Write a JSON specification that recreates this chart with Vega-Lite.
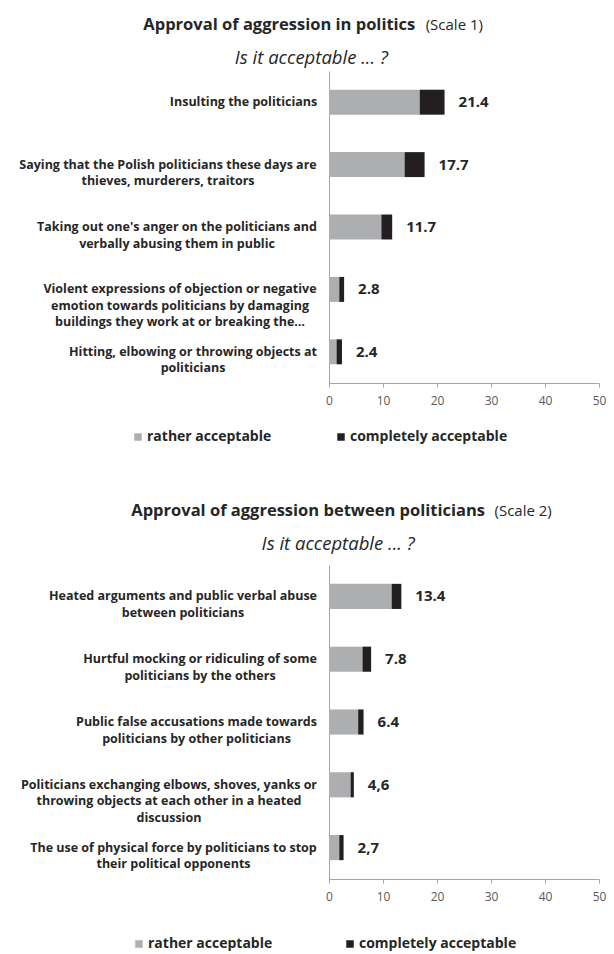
{
  "$schema": "https://vega.github.io/schema/vega-lite/v6.json",
  "background": "white",
  "padding": {"top": 17, "left": 18, "right": 5, "bottom": 0},
  "config": {
    "font": "Open Sans",
    "view": {"stroke": null},
    "title": {"color": "#262626", "anchor": "middle"},
    "axis": {"domainColor": "#A6A6A6", "tickColor": "#A6A6A6", "grid": false}
  },
  "datasets": {
    "scale1": [
      {"item": "Insulting the politicians", "rather acceptable": 16.8, "completely acceptable": 4.6, "total": 21.4, "label": "21.4"},
      {"item": "Saying that the Polish politicians these days are|thieves, murderers, traitors", "rather acceptable": 14.0, "completely acceptable": 3.7, "total": 17.7, "label": "17.7"},
      {"item": "Taking out one's anger on the politicians and|verbally abusing them in public", "rather acceptable": 9.7, "completely acceptable": 2.0, "total": 11.7, "label": "11.7"},
      {"item": "Violent expressions of objection or negative|emotion towards politicians by damaging|buildings they work at or breaking the…", "rather acceptable": 1.9, "completely acceptable": 0.9, "total": 2.8, "label": "2.8"},
      {"item": "Hitting, elbowing or throwing objects at|politicians", "rather acceptable": 1.4, "completely acceptable": 1.0, "total": 2.4, "label": "2.4"}
    ],
    "scale2": [
      {"item": "Heated arguments and public verbal abuse|between politicians", "rather acceptable": 11.6, "completely acceptable": 1.8, "total": 13.4, "label": "13.4"},
      {"item": "Hurtful mocking or ridiculing of some|politicians by the others", "rather acceptable": 6.2, "completely acceptable": 1.6, "total": 7.8, "label": "7.8"},
      {"item": "Public false accusations made towards|politicians by other politicians", "rather acceptable": 5.4, "completely acceptable": 1.0, "total": 6.4, "label": "6.4"},
      {"item": "Politicians exchanging elbows, shoves, yanks or|throwing objects at each other in a heated|discussion", "rather acceptable": 4.0, "completely acceptable": 0.6, "total": 4.6, "label": "4,6"},
      {"item": "The use of physical force by politicians to stop|their political opponents", "rather acceptable": 1.9, "completely acceptable": 0.8, "total": 2.7, "label": "2,7"}
    ]
  },
  "spacing": 58,
  "resolve": {"scale": {"color": "independent", "x": "independent", "y": "independent"}},
  "vconcat": [
    {
      "title": {"text": "(Scale 1)", "fontSize": 15, "fontWeight": "normal", "offset": -16, "dx": 142},
      "vconcat": [
        {
          "title": {"text": "Approval of aggression in politics", "fontSize": 16.5, "fontWeight": "bold", "offset": 15, "dx": -33},
          "vconcat": [
            {
              "data": {"name": "scale1"},
              "width": 270,
              "height": 312,
              "title": {"text": "Is it acceptable ... ?", "fontSize": 18.5, "fontWeight": "normal", "fontStyle": "italic", "offset": 4, "frame": "bounds", "dx": -1},
              "encoding": {
                "y": {"field": "item", "type": "nominal", "sort": null, "title": null,
                  "scale": {"paddingInner": 0.6, "paddingOuter": 0.3},
                  "axis": {"labelExpr": "split(datum.label, '|')", "labelFontSize": 12.5, "labelFontWeight": "bold", "labelColor": "#262626", "labelLimit": 0, "labelLineHeight": 16.5, "labelAlign": "center",
                    "labelPadding": {"condition": [
                      {"test": "indexof(datum.value, 'Insulting') === 0", "value": 86},
                      {"test": "indexof(datum.value, 'Saying') === 0", "value": 161.5},
                      {"test": "indexof(datum.value, 'Taking') === 0", "value": 152.5},
                      {"test": "indexof(datum.value, 'Violent') === 0", "value": 149.5}
                    ], "value": 136.5},
                    "ticks": false}}
              },
              "layer": [
                {
                  "transform": [{"fold": ["rather acceptable", "completely acceptable"], "as": ["series", "value"]}],
                  "mark": {"type": "bar"},
                  "encoding": {
                    "x": {"field": "value", "type": "quantitative", "stack": "zero", "title": null,
                      "scale": {"domain": [0, 50]},
                      "axis": {"values": [0, 10, 20, 30, 40, 50], "tickSize": 4, "labelFontSize": 12, "labelColor": "#595959", "labelPadding": 8, "labelFlush": false}},
                    "color": {"field": "series", "type": "nominal",
                      "scale": {"domain": ["rather acceptable", "completely acceptable"], "range": ["#ADAEB0", "#231F20"]},
                      "legend": {"title": null, "orient": "none", "legendX": -198, "legendY": 359, "direction": "horizontal", "symbolType": "square", "symbolSize": 56, "symbolStrokeWidth": 0, "labelOffset": 2, "labelFontSize": 14, "labelFontWeight": "bold", "labelColor": "#262626", "columnPadding": 62}},
                    "order": {"field": "series", "sort": "descending"}
                  }
                },
                {
                  "mark": {"type": "text", "align": "left", "dx": 14, "fontWeight": "bold", "fontSize": 15, "color": "#262626"},
                  "encoding": {
                    "x": {"field": "total", "type": "quantitative"},
                    "text": {"field": "label"}
                  }
                }
              ]
            }
          ]
        }
      ]
    },
    {
      "title": {"text": "(Scale 2)", "fontSize": 15, "fontWeight": "normal", "offset": -16, "dx": 210},
      "vconcat": [
        {
          "title": {"text": "Approval of aggression between politicians", "fontSize": 16.5, "fontWeight": "bold", "offset": 16, "dx": -5},
          "vconcat": [
            {
              "data": {"name": "scale2"},
              "width": 270,
              "height": 314,
              "title": {"text": "Is it acceptable ... ?", "fontSize": 18.5, "fontWeight": "normal", "fontStyle": "italic", "offset": 11.5, "frame": "bounds", "dx": 25},
              "encoding": {
                "y": {"field": "item", "type": "nominal", "sort": null, "title": null,
                  "scale": {"paddingInner": 0.6, "paddingOuter": 0.3},
                  "axis": {"labelExpr": "split(datum.label, '|')", "labelFontSize": 12.5, "labelFontWeight": "bold", "labelColor": "#262626", "labelLimit": 0, "labelLineHeight": 16.5, "labelAlign": "center",
                    "labelPadding": {"condition": [
                      {"test": "indexof(datum.value, 'Heated') === 0", "value": 146.5},
                      {"test": "indexof(datum.value, 'Hurtful') === 0", "value": 129.5},
                      {"test": "indexof(datum.value, 'Public') === 0", "value": 133},
                      {"test": "indexof(datum.value, 'Politicians') === 0", "value": 160.5}
                    ], "value": 156},
                    "ticks": false}}
              },
              "layer": [
                {
                  "transform": [{"fold": ["rather acceptable", "completely acceptable"], "as": ["series", "value"]}],
                  "mark": {"type": "bar"},
                  "encoding": {
                    "x": {"field": "value", "type": "quantitative", "stack": "zero", "title": null,
                      "scale": {"domain": [0, 50]},
                      "axis": {"values": [0, 10, 20, 30, 40, 50], "tickSize": 4, "labelFontSize": 12, "labelColor": "#595959", "labelPadding": 8, "labelFlush": false}},
                    "color": {"field": "series", "type": "nominal",
                      "scale": {"domain": ["rather acceptable", "completely acceptable"], "range": ["#ADAEB0", "#231F20"]},
                      "legend": {"title": null, "orient": "none", "legendX": -197, "legendY": 372, "direction": "horizontal", "symbolType": "square", "symbolSize": 56, "symbolStrokeWidth": 0, "labelOffset": 2, "labelFontSize": 14, "labelFontWeight": "bold", "labelColor": "#262626", "columnPadding": 70}},
                    "order": {"field": "series", "sort": "descending"}
                  }
                },
                {
                  "mark": {"type": "text", "align": "left", "dx": 14, "fontWeight": "bold", "fontSize": 15, "color": "#262626"},
                  "encoding": {
                    "x": {"field": "total", "type": "quantitative"},
                    "text": {"field": "label"}
                  }
                }
              ]
            }
          ]
        }
      ]
    }
  ]
}
